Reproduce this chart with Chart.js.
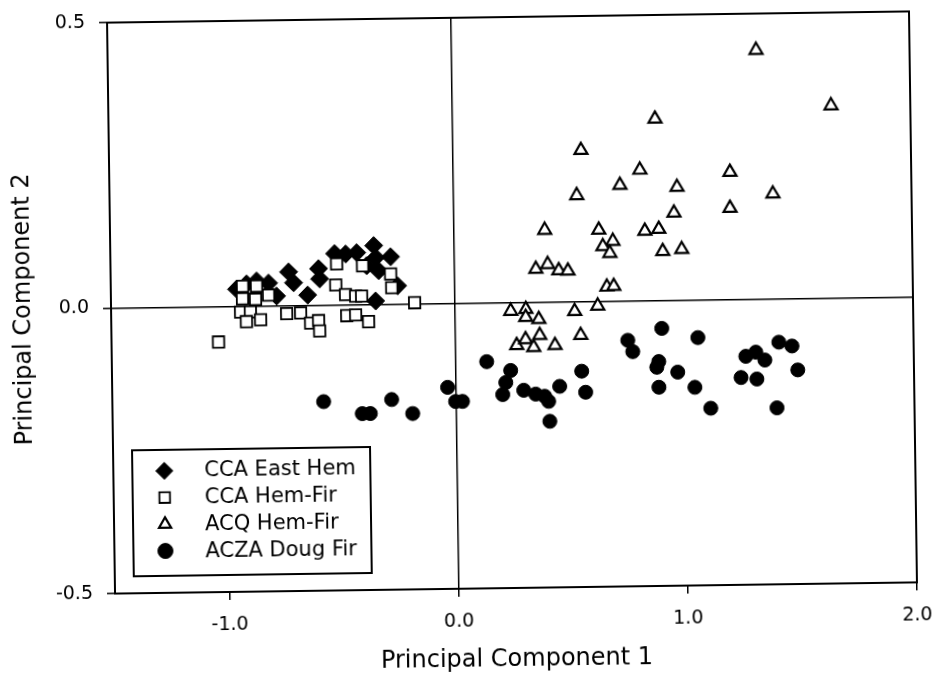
<!DOCTYPE html>
<html>
<head>
<meta charset="utf-8">
<script src="https://cdn.jsdelivr.net/npm/chart.js@4/dist/chart.umd.min.js"></script>
<style>
  html, body { margin: 0; padding: 0; background: #fff; overflow: hidden; }
  #wrap { width: 936px; height: 674px; position: relative; overflow: hidden; background: #fff; }
  /* the reference is a slightly skewed scan: the whole figure is turned by ~0.8 degrees */
  #c { display: block; transform: rotate(-0.8deg); transform-origin: 512px 302px; }
</style>
</head>
<body>
<div id="wrap"><canvas id="c" width="936" height="674"></canvas></div>
<script>
// ---- Data ----
const seriesNames = ['CCA East Hem', 'CCA Hem-Fir', 'ACQ Hem-Fir', 'ACZA Doug Fir'];

const ccaEastHemX = [-0.951, -0.907, -0.811, -0.777, -0.723, -0.702, -0.641, -0.592, -0.588, -0.521,
                     -0.473, -0.425, -0.350, -0.342, -0.277, -0.382, -0.330, -0.248, -0.345, -0.863];
const ccaEastHemY = [0.030, 0.039, 0.040, 0.017, 0.059, 0.040, 0.018, 0.064, 0.046, 0.090,
                     0.089, 0.091, 0.103, 0.082, 0.083, 0.068, 0.059, 0.032, 0.006, 0.044];

const ccaHemFirX = [-0.925, -0.864, -0.869, -0.812, -0.926, -0.935, -0.892, -0.910, -0.848, -0.734,
                    -0.673, -0.630, -0.595, -0.591, -0.513, -0.518, -0.476, -0.432, -0.406, -0.472,
                    -0.433, -0.377, -0.400, -0.278, -0.274, -0.175, -1.033];
const ccaHemFirY = [0.035, 0.035, 0.012, 0.019, 0.013, -0.010, -0.010, -0.027, -0.024, -0.014,
                    -0.013, -0.031, -0.027, -0.045, 0.072, 0.035, 0.018, 0.015, 0.015, -0.019,
                    -0.018, -0.030, 0.068, 0.053, 0.029, 0.002, -0.062];

const acqHemFirX = [1.330, 1.654, 0.885, 0.560, 0.816, 1.209, 0.728, 0.977, 1.395, 0.539,
                    0.962, 1.207, 0.397, 0.633, 0.834, 0.895, 0.694, 0.650, 0.680, 0.911,
                    0.994, 0.356, 0.408, 0.456, 0.496, 0.665, 0.695, 0.244, 0.310, 0.309,
                    0.366, 0.523, 0.624, 0.268, 0.307, 0.342, 0.369, 0.435, 0.548];
const acqHemFirY = [0.436, 0.337, 0.318, 0.265, 0.229, 0.223, 0.203, 0.198, 0.184, 0.186,
                    0.153, 0.160, 0.126, 0.125, 0.122, 0.125, 0.105, 0.096, 0.084, 0.086,
                    0.089, 0.058, 0.066, 0.055, 0.054, 0.025, 0.026, -0.015, -0.012, -0.026,
                    -0.030, -0.017, -0.008, -0.075, -0.065, -0.079, -0.058, -0.076, -0.059];

const aczaDougFirX = [-0.578, -0.410, -0.375, -0.281, -0.190, -0.036, -0.002, 0.028, 0.136, 0.240,
                      0.218, 0.204, 0.296, 0.348, 0.387, 0.404, 0.453, 0.408, 0.550, 0.566,
                      0.753, 0.774, 0.902, 1.059, 0.887, 0.878, 0.969, 0.886, 1.043, 1.111,
                      1.267, 1.311, 1.350, 1.412, 1.469, 1.245, 1.314, 1.493, 1.400];
const aczaDougFirY = [-0.169, -0.191, -0.191, -0.167, -0.192, -0.147, -0.172, -0.172, -0.103, -0.119,
                      -0.140, -0.161, -0.154, -0.161, -0.165, -0.174, -0.148, -0.209, -0.122, -0.159,
                      -0.069, -0.089, -0.049, -0.066, -0.107, -0.117, -0.126, -0.152, -0.153, -0.190,
                      -0.100, -0.093, -0.107, -0.076, -0.083, -0.137, -0.140, -0.125, -0.191];

const xTickValues = [-1, 0, 1, 2];
const yTickValues = [-0.5, 0, 0.5];
const xAxisTitle = 'Principal Component 1';
const yAxisTitle = 'Principal Component 2';

// ---- Helpers ----
const pts = (xs, ys) => xs.map((x, i) => ({ x: x, y: ys[i] }));
const FONT = 'DejaVu Sans';

const frameAndLegend = {
  id: 'frameAndLegend',
  afterDraw(chart) {
    const ctx = chart.ctx;
    const a = chart.chartArea;
    ctx.save();
    // plot frame
    ctx.strokeStyle = '#000';
    ctx.lineWidth = 2;
    ctx.strokeRect(a.left, a.top, a.right - a.left, a.bottom - a.top);
    // legend box
    const bx = 130, by = 445, bw = 238, bh = 126;
    ctx.fillStyle = '#fff';
    ctx.fillRect(bx, by, bw, bh);
    ctx.lineWidth = 2;
    ctx.strokeRect(bx, by, bw, bh);
    chart.data.datasets.forEach((ds, i) => {
      const y = 466 + i * 26.7;
      ctx.fillStyle = ds.backgroundColor;
      ctx.strokeStyle = ds.borderColor;
      ctx.lineWidth = ds.borderWidth;
      Chart.helpers.drawPoint(ctx, {
        pointStyle: ds.pointStyle,
        radius: ds.legendRadius,
        borderWidth: ds.borderWidth,
        rotation: 0
      }, 162, y);
      ctx.fillStyle = '#000';
      ctx.font = '21px "' + FONT + '"';
      ctx.textBaseline = 'middle';
      ctx.textAlign = 'left';
      ctx.fillText(ds.label, 202, y + 1);
    });
    ctx.restore();
  }
};

const zeroLine = (c) => (c.tick && c.tick.value === 0) ? '#000' : 'rgba(0,0,0,0)';

new Chart(document.getElementById('c'), {
  type: 'scatter',
  data: {
    datasets: [
      {
        label: seriesNames[0], data: pts(ccaEastHemX, ccaEastHemY),
        pointStyle: 'rectRot', pointRadius: 9, legendRadius: 8.5,
        backgroundColor: '#000', borderColor: '#000', borderWidth: 1, order: 2
      },
      {
        label: seriesNames[1], data: pts(ccaHemFirX, ccaHemFirY),
        pointStyle: 'rect', pointRadius: 8, legendRadius: 7.5,
        backgroundColor: '#fff', borderColor: '#000', borderWidth: 1.8, order: 1
      },
      {
        label: seriesNames[2], data: pts(acqHemFirX, acqHemFirY),
        pointStyle: 'triangle', pointRadius: 7.5, legendRadius: 7,
        backgroundColor: '#fff', borderColor: '#000', borderWidth: 2.2, order: 3
      },
      {
        label: seriesNames[3], data: pts(aczaDougFirX, aczaDougFirY),
        pointStyle: 'circle', pointRadius: 7, legendRadius: 7.5,
        backgroundColor: '#000', borderColor: '#000', borderWidth: 1, order: 4
      }
    ]
  },
  options: {
    responsive: false,
    animation: false,
    events: [],
    layout: { padding: { top: 17, right: 23, left: 0, bottom: 0 } },
    plugins: { legend: { display: false }, tooltip: { enabled: false } },
    scales: {
      x: {
        type: 'linear', position: 'bottom', min: -1.5, max: 2,
        afterBuildTicks: (s) => { s.ticks = xTickValues.map(v => ({ value: v })); },
        afterFit: (s) => { s.height = 86; s.paddingLeft = 0; s.paddingRight = 0; },
        ticks: {
          callback: (v) => Number(v).toFixed(1),
          font: { family: FONT, size: 19 }, color: '#000',
          padding: 14, maxRotation: 0, autoSkip: false
        },
        grid: { color: zeroLine, lineWidth: 1.5, tickColor: '#000', tickLength: 8, tickWidth: 1.5 },
        border: { display: false },
        title: {
          display: true, text: xAxisTitle, color: '#000',
          font: { family: FONT, size: 24 }, padding: { top: 2, bottom: 0 }
        }
      },
      y: {
        type: 'linear', position: 'left', min: -0.5, max: 0.5,
        afterBuildTicks: (s) => { s.ticks = yTickValues.map(v => ({ value: v })); },
        afterFit: (s) => { s.width = 111; s.paddingTop = 0; s.paddingBottom = 0; },
        ticks: {
          callback: (v) => Number(v).toFixed(1),
          font: { family: FONT, size: 19 }, color: '#000',
          padding: 14, autoSkip: false
        },
        grid: { color: zeroLine, lineWidth: 1.5, tickColor: '#000', tickLength: 8, tickWidth: 1.5 },
        border: { display: false },
        title: {
          display: true, text: yAxisTitle, color: '#000',
          font: { family: FONT, size: 24 }, padding: { top: 9, bottom: 4 }
        }
      }
    }
  },
  plugins: [frameAndLegend]
});
</script>
</body>
</html>
